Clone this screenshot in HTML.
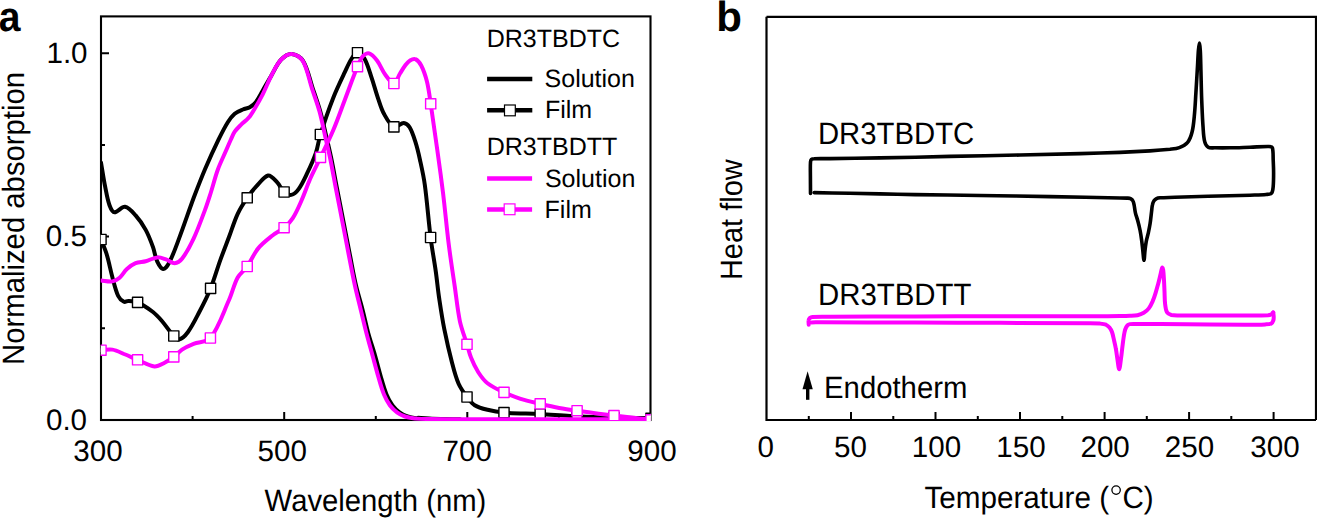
<!DOCTYPE html>
<html><head><meta charset="utf-8"><style>
html,body{margin:0;padding:0;background:#fff;}
body{width:1317px;height:518px;overflow:hidden;}
svg{display:block;}
</style></head><body>
<svg width="1317" height="518" viewBox="0 0 1317 518" font-family="'Liberation Sans', sans-serif" text-rendering="geometricPrecision">
<defs><clipPath id="ca"><rect x="100.7" y="16.4" width="550.1" height="404.6"/></clipPath></defs>
<rect x="101" y="16.4" width="549.5" height="403.6" fill="none" stroke="#000" stroke-width="2.1"/>
<path d="M101 328.3H105.0M101 236.6H109.0M101 144.9H105.0M101 53.2H109.0M192.6 420V416.0M284.2 420V412.0M375.8 420V416.0M467.3 420V412.0M558.9 420V416.0" stroke="#000" stroke-width="2" fill="none"/>
<g clip-path="url(#ca)" fill="none" stroke-linejoin="round" stroke-linecap="round">
<path d="M101.0 162.5 C102.4 170.5 103.5 178.5 105.1 186.4 C106.4 192.7 107.3 199.2 109.5 205.2 C110.5 207.9 112.3 212.1 114.5 212.3 C117.5 212.6 121.7 206.3 125.0 206.8 C128.8 207.4 132.6 212.0 135.6 215.4 C139.5 219.7 142.9 224.8 145.7 229.9 C148.7 235.4 150.9 241.3 153.0 247.2 C154.7 251.9 155.2 257.2 157.3 261.7 C158.6 264.5 161.0 268.7 163.1 269.0 C164.9 269.2 167.7 265.6 168.9 263.2 C173.0 255.5 175.9 246.9 179.0 238.6 C184.1 225.2 188.6 211.5 193.6 198.0 C197.3 188.3 201.0 178.6 205.1 169.0 C209.3 159.1 213.8 149.3 218.5 139.6 C221.4 133.7 224.3 127.8 227.8 122.2 C229.7 119.1 232.0 116.0 234.7 113.7 C237.0 111.8 240.1 110.7 242.9 109.5 C245.1 108.5 247.7 108.4 249.8 107.2 C251.9 106.0 254.1 104.4 255.6 102.5 C258.3 99.0 260.2 94.9 262.5 91.0 C265.6 85.6 268.6 80.1 271.8 74.7 C274.8 69.6 277.2 63.8 281.1 59.7 C283.7 56.9 288.1 53.7 291.5 53.9 C295.4 54.1 300.8 57.2 303.0 60.8 C307.9 68.7 309.6 79.3 312.8 88.6 C315.4 96.2 318.1 103.8 320.3 111.5 C322.8 120.6 324.8 129.8 326.9 139.0 C328.5 146.0 330.2 153.0 331.6 160.0 C333.5 169.3 335.1 178.7 336.9 188.0 C339.1 199.5 341.4 210.9 343.6 222.4 C345.7 233.3 347.8 244.1 349.9 255.0 C351.9 265.0 353.6 275.1 355.9 285.0 C357.8 293.4 360.5 301.6 362.6 310.0 C364.6 317.6 366.1 325.4 368.2 333.0 C370.2 340.4 372.8 347.6 374.9 355.0 C377.0 362.3 378.8 369.7 380.9 377.0 C382.6 382.9 384.2 388.9 386.5 394.5 C388.1 398.4 390.1 402.2 392.5 405.5 C394.4 408.1 396.9 410.4 399.5 412.3 C401.9 414.1 404.7 415.5 407.5 416.5 C410.7 417.6 414.2 418.0 417.5 418.4 C417.7 418.4 417.7 417.8 418.0 417.8 C422.6 417.9 427.3 418.6 432.0 418.8 C441.3 419.1 450.7 419.1 460.0 419.2" stroke="#000" stroke-width="4.0"/>
<path d="M101.0 239.5 C102.9 244.3 105.1 249.0 106.6 254.0 C108.9 261.6 110.3 269.5 112.4 277.2 C114.1 283.5 115.5 290.2 118.2 296.0 C119.3 298.4 121.8 300.7 124.0 301.8 C125.2 302.4 126.9 300.9 128.3 301.0 C131.4 301.1 134.8 301.1 137.6 302.4 C143.0 304.8 148.2 308.4 153.0 312.0 C156.2 314.5 159.0 317.6 161.7 320.7 C166.0 325.6 169.4 331.3 173.8 336.0 C175.2 337.5 177.3 339.9 179.0 339.5 C182.0 338.7 185.6 335.2 187.8 332.2 C192.3 326.1 195.7 318.9 199.3 312.0 C203.3 304.3 207.3 296.5 210.6 288.4 C214.3 279.2 216.9 269.5 220.3 260.1 C223.1 252.4 226.1 244.7 229.0 237.0 C231.9 229.3 234.2 221.3 237.7 213.8 C240.3 208.2 243.7 202.9 247.2 197.8 C250.0 193.7 253.1 189.8 256.5 186.2 C260.1 182.4 264.1 176.4 268.1 175.5 C270.8 174.9 274.3 179.3 276.8 181.9 C279.7 184.8 281.1 189.3 284.1 192.0 C286.0 193.7 289.1 195.3 291.3 194.9 C293.9 194.4 296.8 191.6 298.6 189.1 C302.1 184.3 304.6 178.6 307.2 173.2 C310.4 166.6 313.5 159.8 315.9 152.9 C317.9 146.9 318.5 140.5 320.4 134.5 C324.3 122.2 328.5 109.9 333.2 97.9 C336.6 89.2 340.7 80.8 344.7 72.4 C346.9 67.7 348.9 62.8 351.7 58.5 C353.2 56.2 355.5 52.7 357.5 52.7 C359.7 52.7 363.0 56.0 364.4 58.5 C367.6 64.1 369.3 70.8 371.4 77.1 C373.9 84.4 375.8 91.8 378.3 99.1 C380.0 104.2 381.5 109.5 384.1 114.1 C386.7 118.7 389.9 125.1 393.9 126.9 C396.5 128.1 400.7 122.8 403.8 122.9 C405.9 123.0 408.4 125.3 409.6 127.3 C412.2 131.6 413.8 136.9 415.4 141.9 C417.3 147.8 418.7 153.9 420.0 160.0 C421.8 168.2 423.7 176.5 424.8 184.8 C427.2 202.3 428.4 220.0 430.6 237.5 C432.0 248.9 434.2 260.2 435.8 271.6 C437.1 280.7 437.9 290.0 439.3 299.1 C440.8 309.1 442.3 319.2 444.3 329.1 C446.6 340.5 449.2 351.8 452.1 363.0 C453.9 370.0 455.7 377.2 458.6 383.8 C460.7 388.5 463.9 392.9 467.0 397.0 C469.2 400.0 471.6 403.3 474.7 405.2 C478.4 407.5 483.1 408.7 487.5 409.8 C492.9 411.2 498.4 412.2 504.0 412.6 C516.0 413.6 528.1 413.4 540.2 414.0 C550.1 414.5 560.1 415.4 570.0 415.9 C580.0 416.5 590.0 417.0 600.0 417.3 C617.0 417.8 634.0 418.0 651.0 418.3" stroke="#000" stroke-width="4.0"/>
<rect x="95.90" y="234.40" width="10.2" height="10.2" fill="#fff" stroke="#000" stroke-width="1.4"/><rect x="132.50" y="297.30" width="10.2" height="10.2" fill="#fff" stroke="#000" stroke-width="1.4"/><rect x="168.70" y="330.90" width="10.2" height="10.2" fill="#fff" stroke="#000" stroke-width="1.4"/><rect x="205.50" y="283.30" width="10.2" height="10.2" fill="#fff" stroke="#000" stroke-width="1.4"/><rect x="242.10" y="192.70" width="10.2" height="10.2" fill="#fff" stroke="#000" stroke-width="1.4"/><rect x="279.00" y="186.90" width="10.2" height="10.2" fill="#fff" stroke="#000" stroke-width="1.4"/><rect x="315.30" y="129.40" width="10.2" height="10.2" fill="#fff" stroke="#000" stroke-width="1.4"/><rect x="352.40" y="47.60" width="10.2" height="10.2" fill="#fff" stroke="#000" stroke-width="1.4"/><rect x="388.80" y="121.80" width="10.2" height="10.2" fill="#fff" stroke="#000" stroke-width="1.4"/><rect x="425.50" y="232.40" width="10.2" height="10.2" fill="#fff" stroke="#000" stroke-width="1.4"/><rect x="461.90" y="391.90" width="10.2" height="10.2" fill="#fff" stroke="#000" stroke-width="1.4"/><rect x="498.90" y="407.50" width="10.2" height="10.2" fill="#fff" stroke="#000" stroke-width="1.4"/><rect x="535.10" y="408.90" width="10.2" height="10.2" fill="#fff" stroke="#000" stroke-width="1.4"/><rect x="571.90" y="411.30" width="10.2" height="10.2" fill="#fff" stroke="#000" stroke-width="1.4"/><rect x="608.90" y="412.50" width="10.2" height="10.2" fill="#fff" stroke="#000" stroke-width="1.4"/><rect x="645.90" y="413.20" width="10.2" height="10.2" fill="#fff" stroke="#000" stroke-width="1.4"/>
<path d="M101.0 280.6 C104.8 280.9 108.8 282.0 112.4 281.4 C115.0 281.0 117.6 279.4 119.6 277.7 C122.4 275.3 124.1 271.5 126.9 269.0 C129.5 266.7 132.4 264.5 135.6 263.2 C138.7 261.9 142.4 262.1 145.7 261.2 C149.6 260.2 153.4 257.7 157.3 257.4 C160.2 257.1 163.2 258.5 166.0 259.4 C169.0 260.4 171.9 263.3 174.7 263.2 C177.2 263.1 180.3 261.0 182.0 258.8 C186.6 252.8 190.3 245.6 193.6 238.6 C198.0 229.2 201.5 219.3 205.1 209.6 C207.3 203.8 209.1 197.9 211.0 192.0 C213.3 184.7 215.1 177.2 217.7 170.0 C219.9 163.8 222.9 157.9 225.5 151.8 C227.3 147.7 229.0 143.6 230.9 139.5 C232.1 136.9 233.1 134.1 234.7 131.7 C236.4 129.2 238.7 127.0 240.9 124.8 C243.3 122.4 246.4 120.4 248.6 117.8 C251.0 115.0 252.9 111.7 254.8 108.5 C257.5 104.0 260.2 99.3 262.6 94.6 C265.9 88.1 268.4 81.1 271.8 74.7 C274.6 69.5 277.2 63.8 281.1 59.7 C283.7 56.9 288.1 53.7 291.5 53.9 C295.3 54.1 300.6 57.2 302.7 60.8 C307.4 68.8 308.9 79.3 312.0 88.6 C314.5 96.2 317.4 103.8 319.5 111.5 C322.0 120.6 323.7 129.8 325.8 139.0 C327.4 146.0 329.1 153.0 330.5 160.0 C332.4 169.3 334.0 178.7 335.8 188.0 C338.0 199.5 340.3 210.9 342.5 222.4 C344.6 233.3 346.7 244.1 348.8 255.0 C350.8 265.0 352.6 275.0 354.8 285.0 C356.6 293.4 358.8 301.7 360.8 310.0 C362.7 317.7 364.4 325.4 366.4 333.0 C368.3 340.4 370.4 347.7 372.4 355.0 C374.4 362.3 376.3 369.7 378.4 377.0 C380.1 382.9 381.7 388.9 384.0 394.5 C385.6 398.4 387.6 402.2 390.0 405.5 C391.9 408.1 394.4 410.4 397.0 412.3 C399.4 414.1 402.2 415.5 405.0 416.5 C408.2 417.6 411.6 418.0 415.0 418.4 C420.0 418.9 425.0 419.0 430.0 419.1 C440.0 419.3 450.0 419.2 460.0 419.2 C525.0 419.2 590.0 419.2 655.0 419.2" stroke="#ff00ff" stroke-width="4.0"/>
<path d="M101.0 350.2 C104.8 350.0 108.7 349.0 112.4 349.6 C116.4 350.3 120.2 352.4 124.0 354.0 C128.6 355.8 133.0 357.9 137.6 359.8 C143.2 362.1 148.8 365.8 154.4 366.4 C157.8 366.8 161.4 364.3 164.6 362.7 C167.8 361.1 170.9 359.1 173.8 356.9 C176.7 354.7 179.0 351.6 182.0 349.6 C185.6 347.2 189.6 345.4 193.6 343.8 C199.1 341.6 206.9 342.3 210.4 338.0 C218.7 327.7 223.2 312.8 229.0 300.0 C232.3 292.7 233.9 284.5 237.7 277.5 C240.0 273.3 244.4 270.5 247.2 266.5 C251.2 260.8 253.6 253.9 258.0 248.6 C262.1 243.6 267.4 239.6 272.5 235.5 C276.1 232.6 280.6 230.7 284.1 227.7 C287.4 224.9 290.5 221.7 292.8 218.1 C296.3 212.7 298.8 206.6 301.4 200.7 C304.6 193.6 307.0 186.1 310.1 179.0 C313.3 171.7 317.1 164.6 320.5 157.4 C324.8 148.4 329.3 139.5 333.2 130.3 C337.4 120.4 340.9 110.2 344.7 100.2 C349.0 89.0 352.9 77.7 357.5 66.6 C359.0 63.0 360.4 59.0 362.8 56.2 C364.2 54.6 367.2 52.8 369.1 53.4 C372.0 54.3 375.0 57.9 377.2 60.8 C380.4 65.0 382.1 70.4 385.3 74.7 C387.7 78.0 391.4 83.7 393.9 83.5 C396.3 83.3 397.9 76.8 400.0 73.5 C401.8 70.6 403.5 67.7 405.5 65.0 C406.8 63.3 408.2 61.5 410.0 60.5 C411.5 59.6 413.9 58.5 415.4 59.2 C417.7 60.2 419.9 63.0 421.2 65.5 C423.8 70.5 425.6 76.2 427.0 81.7 C428.8 88.9 429.6 96.4 430.7 103.8 C433.0 119.2 435.2 134.6 437.3 150.0 C439.3 164.5 441.3 178.9 443.1 193.4 C445.2 210.8 446.7 228.2 448.9 245.6 C450.6 259.1 452.7 272.6 454.7 286.1 C456.4 297.8 457.5 309.7 459.9 321.3 C461.6 329.1 464.6 336.6 467.0 344.3 C468.3 348.7 469.3 353.3 471.0 357.5 C473.0 362.6 475.4 367.6 478.3 372.2 C480.9 376.2 483.8 380.3 487.5 383.2 C492.4 387.0 498.3 389.7 504.0 392.4 C509.4 394.9 515.0 397.0 520.6 398.8 C527.0 400.8 533.6 402.2 540.2 403.8 C546.5 405.3 552.8 406.8 559.1 408.0 C565.1 409.1 571.1 409.9 577.1 410.7 C589.4 412.4 601.7 414.1 614.0 415.6 C626.3 417.1 638.7 418.4 651.0 419.8" stroke="#ff00ff" stroke-width="4.0"/>
<rect x="95.90" y="345.10" width="10.2" height="10.2" fill="#fff" stroke="#ff00ff" stroke-width="1.4"/><rect x="132.50" y="354.70" width="10.2" height="10.2" fill="#fff" stroke="#ff00ff" stroke-width="1.4"/><rect x="168.70" y="351.80" width="10.2" height="10.2" fill="#fff" stroke="#ff00ff" stroke-width="1.4"/><rect x="205.30" y="332.90" width="10.2" height="10.2" fill="#fff" stroke="#ff00ff" stroke-width="1.4"/><rect x="242.10" y="261.40" width="10.2" height="10.2" fill="#fff" stroke="#ff00ff" stroke-width="1.4"/><rect x="279.00" y="222.60" width="10.2" height="10.2" fill="#fff" stroke="#ff00ff" stroke-width="1.4"/><rect x="315.40" y="152.30" width="10.2" height="10.2" fill="#fff" stroke="#ff00ff" stroke-width="1.4"/><rect x="352.40" y="61.50" width="10.2" height="10.2" fill="#fff" stroke="#ff00ff" stroke-width="1.4"/><rect x="388.80" y="78.40" width="10.2" height="10.2" fill="#fff" stroke="#ff00ff" stroke-width="1.4"/><rect x="425.60" y="98.70" width="10.2" height="10.2" fill="#fff" stroke="#ff00ff" stroke-width="1.4"/><rect x="461.90" y="339.20" width="10.2" height="10.2" fill="#fff" stroke="#ff00ff" stroke-width="1.4"/><rect x="498.90" y="387.30" width="10.2" height="10.2" fill="#fff" stroke="#ff00ff" stroke-width="1.4"/><rect x="535.10" y="398.70" width="10.2" height="10.2" fill="#fff" stroke="#ff00ff" stroke-width="1.4"/><rect x="572.00" y="405.60" width="10.2" height="10.2" fill="#fff" stroke="#ff00ff" stroke-width="1.4"/><rect x="608.90" y="410.50" width="10.2" height="10.2" fill="#fff" stroke="#ff00ff" stroke-width="1.4"/><rect x="645.90" y="414.70" width="10.2" height="10.2" fill="#fff" stroke="#ff00ff" stroke-width="1.4"/>
</g>
<text transform="translate(46.43 63.00)" font-size="29.60">1.0</text>
<text transform="translate(45.72 246.00)" font-size="29.60">0.5</text>
<text transform="translate(45.92 430.00)" font-size="29.60">0.0</text>
<text transform="translate(73.32 460.60)" font-size="29.60">300</text>
<text transform="translate(257.62 460.60)" font-size="29.60">500</text>
<text transform="translate(442.62 460.60)" font-size="29.60">700</text>
<text transform="translate(627.22 460.60)" font-size="29.60">900</text>
<text transform="translate(264.61 511.20) scale(0.950 1)" font-size="30.80">Wavelength (nm)</text>
<text transform="translate(24.00 364.94) rotate(-90) scale(0.951 1)" font-size="30.80">Normalized absorption</text>
<text transform="translate(-1.17 30.60) scale(0.930 1)" font-size="42.00" font-weight="bold">a</text>
<text transform="translate(486.70 46.70)" font-size="25.00">DR3TBDTC</text>
<text transform="translate(544.55 86.80)" font-size="25.00">Solution</text>
<text transform="translate(544.90 118.30)" font-size="25.00">Film</text>
<text transform="translate(486.70 154.50)" font-size="25.00">DR3TBDTT</text>
<text transform="translate(544.95 186.80)" font-size="25.00">Solution</text>
<text transform="translate(544.60 217.60)" font-size="25.00">Film</text>
<path d="M487.1 79H532.3M487.1 110.3H532.3" stroke="#000" stroke-width="4.5"/>
<rect x="504.50" y="105.00" width="10.8" height="10.8" fill="#fff" stroke="#000" stroke-width="1.2"/>
<path d="M487.1 178.4H532.1M487.1 209.4H532.1" stroke="#ff00ff" stroke-width="4.5"/>
<rect x="504.20" y="203.90" width="10.8" height="10.8" fill="#fff" stroke="#ff00ff" stroke-width="1.2"/>
<path d="M766.5 16.8V420H1316M766.5 16.8H1316V420" fill="none" stroke="#000" stroke-width="2.2"/>
<path d="M808.8 420V416.0M851.0 420V412.0M893.3 420V416.0M935.5 420V412.0M977.8 420V416.0M1020.0 420V412.0M1062.3 420V416.0M1104.6 420V412.0M1146.8 420V416.0M1189.1 420V412.0M1231.3 420V416.0M1273.6 420V412.0" stroke="#000" stroke-width="2" fill="none"/>
<text transform="translate(757.62 457.00)" font-size="29.60">0</text>
<text transform="translate(834.12 457.00)" font-size="29.60">50</text>
<text transform="translate(911.83 457.00)" font-size="29.60">100</text>
<text transform="translate(996.23 457.00)" font-size="29.60">150</text>
<text transform="translate(1080.42 457.00)" font-size="29.60">200</text>
<text transform="translate(1164.72 457.00)" font-size="29.60">250</text>
<text transform="translate(1250.32 457.00)" font-size="29.60">300</text>
<text transform="translate(924.41 508.10) scale(0.963 1)" font-size="30.80">Temperature (</text>
<text transform="translate(1122.52 508.10) scale(0.960 1)" font-size="30.80">C)</text>
<circle cx="1116.1" cy="490.1" r="4.2" fill="none" stroke="#000" stroke-width="1.3"/>
<text transform="translate(741.70 280.12) rotate(-90) scale(0.941 1)" font-size="30.80">Heat flow</text>
<text transform="translate(716.36 30.80)" font-size="42.00" font-weight="bold">b</text>
<text transform="translate(817.96 143.70) scale(0.951 1)" font-size="30.80">DR3TBDTC</text>
<text transform="translate(817.95 304.60) scale(0.954 1)" font-size="30.80">DR3TBDTT</text>
<text transform="translate(824.06 397.80) scale(0.951 1)" font-size="30.80">Endotherm</text>
<path d="M807.6 371.2L812.8 389.3H802.5Z" fill="#000"/><path d="M807.7 386V399.8" stroke="#000" stroke-width="3.4"/>
<g fill="none" stroke="#000" stroke-width="3.6" stroke-linejoin="round" stroke-linecap="round">
<path d="M810.5 193.5 C810.5 187.7 810.4 181.8 810.4 176.0 C810.4 171.3 810.2 166.6 810.5 162.0 C810.6 161.1 810.9 159.9 811.5 159.3 C812.1 158.8 813.1 158.7 814.0 158.7 C819.3 158.5 824.7 158.7 830.0 158.6 C846.7 158.4 863.3 158.2 880.0 157.9 C903.3 157.5 926.7 156.9 950.0 156.4 C973.3 155.9 996.7 155.5 1020.0 155.0 C1040.0 154.6 1060.0 154.1 1080.0 153.6 C1093.3 153.3 1106.7 152.9 1120.0 152.4 C1130.0 152.0 1140.0 151.5 1150.0 150.9 C1156.7 150.5 1163.4 150.0 1170.0 149.3 C1173.1 148.9 1176.4 148.7 1179.3 147.6 C1182.2 146.5 1185.5 145.0 1187.4 142.7 C1189.7 139.9 1191.1 135.9 1192.0 132.3 C1193.4 127.1 1193.8 121.5 1194.3 116.1 C1195.1 108.4 1195.4 100.6 1195.9 92.9 C1196.4 85.2 1196.8 77.4 1197.3 69.7 C1197.7 63.3 1197.9 56.9 1198.4 50.5 C1198.6 48.0 1199.1 43.0 1199.4 43.0 C1199.7 43.0 1200.2 48.0 1200.3 50.5 C1200.7 56.9 1200.7 63.3 1200.9 69.7 C1201.2 79.8 1201.3 89.8 1201.7 99.9 C1202.1 109.2 1202.4 118.4 1203.1 127.7 C1203.4 132.3 1203.5 137.2 1204.7 141.6 C1205.2 143.7 1206.5 146.2 1208.2 147.2 C1209.9 148.3 1212.7 147.7 1215.0 147.8 C1220.0 147.9 1225.0 147.9 1230.0 147.8 C1236.7 147.7 1243.3 147.4 1250.0 147.2 C1256.3 147.0 1262.6 146.4 1268.9 146.5 C1270.1 146.5 1272.0 146.5 1272.3 147.5 C1273.4 151.0 1273.0 155.8 1273.2 160.0 C1273.4 164.3 1273.6 168.5 1273.6 172.8 C1273.6 177.3 1273.6 181.9 1273.2 186.4 C1273.0 188.7 1272.9 191.6 1271.6 193.1 C1270.6 194.3 1268.0 194.3 1266.2 194.5 C1260.8 195.0 1255.4 195.0 1250.0 195.2 C1236.0 195.6 1222.1 195.9 1208.1 196.3 C1197.1 196.6 1186.0 197.0 1175.0 197.3 C1170.0 197.5 1165.0 197.5 1160.0 197.8 C1158.8 197.9 1157.5 198.1 1156.5 198.6 C1155.5 199.1 1154.6 199.9 1154.0 200.8 C1153.2 202.0 1152.7 203.6 1152.4 205.0 C1151.9 207.0 1151.9 209.1 1151.6 211.2 C1151.1 215.3 1150.7 219.5 1150.1 223.6 C1149.6 226.9 1148.9 230.1 1148.2 233.4 C1147.6 236.1 1146.7 238.8 1146.2 241.6 C1145.7 244.5 1145.3 247.5 1145.0 250.5 C1144.6 253.8 1144.4 260.3 1144.0 260.3 C1143.6 260.3 1143.2 253.8 1142.8 250.5 C1142.4 247.0 1142.1 243.5 1141.6 240.0 C1141.2 236.8 1140.7 233.6 1140.1 230.5 C1139.4 227.1 1138.6 223.8 1137.7 220.5 C1137.0 217.9 1136.0 215.4 1135.4 212.8 C1134.8 210.4 1134.7 207.9 1134.2 205.5 C1133.9 204.0 1133.7 202.3 1133.0 201.0 C1132.5 200.0 1131.5 199.1 1130.5 198.6 C1129.5 198.1 1128.2 198.2 1127.0 198.1 C1124.7 198.0 1122.3 198.0 1120.0 198.0 C1096.7 197.5 1073.3 197.0 1050.0 196.6 C1026.7 196.2 1003.3 195.8 980.0 195.5 C958.3 195.2 936.7 194.9 915.0 194.6 C903.3 194.4 891.7 194.1 880.0 193.9 C870.0 193.7 860.0 193.5 850.0 193.3 C838.1 193.1 826.2 192.8 814.3 192.6"/>
</g>
<g fill="none" stroke="#ff00ff" stroke-width="4" stroke-linejoin="round" stroke-linecap="round">
<path d="M808.7 324.8 C808.7 323.4 808.4 321.9 808.6 320.5 C808.7 319.6 809.2 318.6 809.8 318.0 C810.5 317.4 811.5 317.0 812.5 316.9 C818.3 316.5 824.2 316.7 830.0 316.7 C858.3 316.6 886.7 316.5 915.0 316.4 C943.3 316.3 971.7 316.3 1000.0 316.3 C1031.7 316.3 1063.3 316.3 1095.0 316.2 C1103.3 316.2 1111.7 316.1 1120.0 316.0 C1123.3 316.0 1126.7 316.0 1130.0 315.8 C1132.5 315.7 1135.1 315.7 1137.5 315.2 C1139.7 314.7 1141.9 313.9 1143.8 312.8 C1145.7 311.7 1147.5 310.1 1148.8 308.4 C1150.4 306.3 1151.5 303.8 1152.6 301.4 C1153.8 298.6 1154.8 295.6 1155.7 292.6 C1156.6 289.7 1157.4 286.7 1158.2 283.8 C1159.1 280.5 1159.8 277.3 1160.6 274.0 C1161.0 272.5 1161.2 271.0 1161.6 269.5 C1161.8 268.8 1162.2 267.5 1162.4 267.6 C1162.7 267.7 1163.1 269.2 1163.2 270.0 C1163.6 272.9 1163.7 275.9 1163.9 278.8 C1164.2 283.0 1164.3 287.2 1164.5 291.4 C1164.7 295.6 1164.6 299.8 1165.1 303.9 C1165.4 306.7 1165.7 310.0 1167.0 312.3 C1167.8 313.7 1169.8 314.6 1171.4 315.0 C1174.1 315.6 1177.1 315.4 1180.0 315.4 C1201.7 315.5 1223.3 315.5 1245.0 315.5 C1252.7 315.5 1260.4 315.6 1268.0 315.3 C1269.2 315.2 1270.5 314.9 1271.5 314.3 C1272.2 313.9 1272.6 313.0 1273.2 312.4"/>
<path d="M1273.2 312.4 C1273.4 313.8 1273.7 315.1 1273.7 316.5 C1273.7 317.8 1273.8 319.1 1273.4 320.3 C1273.0 321.4 1272.4 322.9 1271.4 323.4 C1269.7 324.3 1267.4 324.3 1265.3 324.4 C1258.6 324.7 1251.8 324.7 1245.0 324.7 C1225.5 324.7 1206.0 324.4 1186.5 324.3 C1169.3 324.2 1152.2 324.0 1135.0 323.9 C1133.3 323.9 1131.6 323.8 1130.0 324.1 C1129.1 324.3 1128.0 324.7 1127.4 325.4 C1126.4 326.5 1125.7 328.0 1125.2 329.5 C1124.4 331.9 1124.1 334.5 1123.7 337.0 C1123.1 340.8 1122.7 344.7 1122.2 348.5 C1121.8 351.8 1121.5 355.2 1121.0 358.5 C1120.5 362.1 1119.8 369.3 1119.2 369.3 C1118.6 369.3 1117.9 362.1 1117.3 358.5 C1116.8 355.3 1116.5 352.1 1115.9 349.0 C1115.4 346.0 1114.7 343.1 1114.0 340.1 C1113.4 337.4 1112.9 334.6 1112.0 332.0 C1111.4 330.4 1110.6 328.8 1109.5 327.5 C1108.6 326.4 1107.3 325.3 1106.0 324.7 C1104.2 324.0 1102.0 323.8 1100.0 323.6 C1096.7 323.3 1093.3 323.3 1090.0 323.3 C1060.0 323.1 1030.0 322.9 1000.0 322.8 C971.7 322.7 943.3 322.7 915.0 322.6 C883.3 322.5 851.7 322.4 820.0 322.3 C817.2 322.3 814.3 322.4 811.5 322.4"/>
</g>
</svg>
</body></html>
